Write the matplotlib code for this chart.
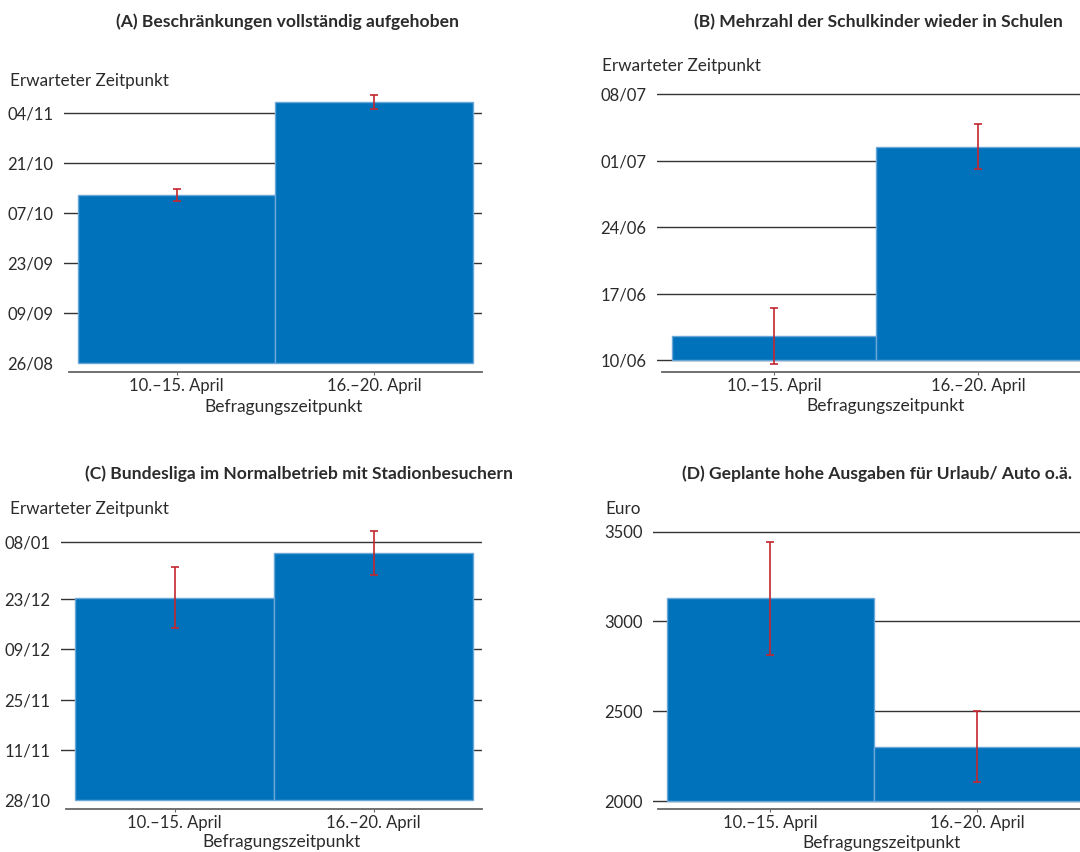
import numpy as np
import matplotlib.pyplot as plt
import matplotlib.dates as mdates

plt.rcParams['font.family'] = ['Lato', 'DejaVu Sans']

W, H = 1080, 852
fig = plt.figure(figsize=(W / 100, H / 100), dpi=100)

# ------- Daten ----------------
gruppen = ['10.–15. April', '16.–20. April']

a_werte = ['2020-10-12 05:00', '2020-11-07 05:00']
a_fehler = [1.7, 2.0]           # Tage
a_ticks = ['2020-08-26', '2020-09-09', '2020-09-23', '2020-10-07', '2020-10-21', '2020-11-04']
a_labels = ['26/08', '09/09', '23/09', '07/10', '21/10', '04/11']

b_werte = ['2020-06-12 14:00', '2020-07-02 11:00']
b_fehler = [2.95, 2.35]
b_ticks = ['2020-06-10', '2020-06-17', '2020-06-24', '2020-07-01', '2020-07-08']
b_labels = ['10/06', '17/06', '24/06', '01/07', '08/07']

c_werte = ['2020-12-23 10:00', '2021-01-04 19:00']
c_fehler = [8.5, 6.1]
c_ticks = ['2020-10-28', '2020-11-11', '2020-11-25', '2020-12-09', '2020-12-23', '2021-01-08']
c_labels = ['28/10', '11/11', '25/11', '09/12', '23/12', '08/01']

d_werte = [3128, 2303]
d_fehler = [313, 198]           # Euro
d_ticks = [2000, 2500, 3000, 3500]
d_labels = ['2000', '2500', '3000', '3500']

titel = ['(A) Beschränkungen vollständig aufgehoben',
         '(B) Mehrzahl der Schulkinder wieder in Schulen',
         '(C) Bundesliga im Normalbetrieb mit Stadionbesuchern',
         '(D) Geplante hohe Ausgaben für Urlaub/ Auto o.ä.']
y_titel = ['Erwarteter Zeitpunkt', 'Erwarteter Zeitpunkt', 'Erwarteter Zeitpunkt', 'Euro']
x_titel = 'Befragungszeitpunkt'

def d2n(lst):
    return [mdates.datestr2num(s) for s in lst]

werte = [d2n(a_werte), d2n(b_werte), d2n(c_werte), d_werte]
fehler = [a_fehler, b_fehler, c_fehler, d_fehler]
ticks = [d2n(a_ticks), d2n(b_ticks), d2n(c_ticks), d_ticks]
labels = [a_labels, b_labels, c_labels, d_labels]

# ------- Layout (Pixel) ----------------
# axes links, rechts, oben, Achsenlinie; Balken links, Balken rechts;
# Pixel des ersten / letzten Ticks; Titel (x, y); y-Titel (x, y); x-Titel (x, y)
layout = [
    dict(ax=(64, 482, 86, 372), bars=(77.7, 473), tp=(363.3, 113.3), spine0=69,
         t=(287, 22), yt=(10, 81), xt=(283, 407), grid_low=False),
    dict(ax=(657, 1100, 86, 372), bars=(671.7, 1080.6), tp=(360.3, 94), spine0=662,
         t=(878, 22), yt=(602, 66), xt=(885, 406), grid_low=True),
    dict(ax=(61, 482, 523, 809), bars=(75, 473.3), tp=(800, 541.7), spine0=66,
         t=(299, 474), yt=(10, 509), xt=(282, 842), grid_low=False),
    dict(ax=(653, 1100, 523, 809), bars=(666.7, 1080.7), tp=(801, 531.7), spine0=658,
         t=(877, 474), yt=(605, 509), xt=(882, 843), grid_low=True),
]

bar_farbe = '#0072bb'
kante = '#6aa6d8'
fehler_farbe = '#c3262e'
text_farbe = '#2b2b2b'

for i in range(4):
    L = layout[i]
    left, right, top, bottom = L['ax']
    ax = fig.add_axes([left / W, 1 - bottom / H, (right - left) / W, (bottom - top) / H])

    # y-Skala aus Tick-Positionen
    t0, t1 = ticks[i][0], ticks[i][-1]
    p0, p1 = L['tp']
    s = (t1 - t0) / (p0 - p1)
    ax.set_ylim(t0 - (bottom - p0) * s, t0 + (p0 - top) * s)

    # x-Skala aus Balkenpositionen
    bl, br = L['bars']
    bw = (br - bl) / 2
    ax.set_xlim(-0.5 - (bl - left) / bw, 1.5 + (right - br) / bw)

    x = np.arange(len(gruppen))
    hoehe = np.array(werte[i]) - t0
    ax.bar(x, hoehe, width=1.0, bottom=t0, color=bar_farbe, edgecolor=kante,
           linewidth=1.0, zorder=3)
    ax.errorbar(x, werte[i], yerr=fehler[i], fmt='none', ecolor=fehler_farbe,
                elinewidth=1.2, capsize=2.8, capthick=1.2, zorder=4)

    # Gitterlinien
    gl = ticks[i] if L['grid_low'] else ticks[i][1:]
    for g in gl:
        ax.axhline(g, color='#333333', lw=1.0, zorder=1)

    ax.set_yticks(ticks[i])
    ax.set_yticklabels(labels[i])
    ax.tick_params(axis='y', length=0, pad=7.5, labelsize=12, labelcolor=text_farbe)
    ax.set_xticks(x)
    ax.set_xticklabels(gruppen)
    ax.tick_params(axis='x', length=2.5, width=0.8, color='#666666', pad=1.5,
                   labelsize=12, labelcolor=text_farbe)

    for sp in ['top', 'right', 'left']:
        ax.spines[sp].set_visible(False)
    ax.spines['bottom'].set_color('#666666')
    ax.spines['bottom'].set_linewidth(1.3)
    xl = ax.get_xlim()
    ax.spines['bottom'].set_bounds(xl[0] + (L['spine0'] - left) / bw, xl[1])

    fig.text(L['t'][0] / W, 1 - L['t'][1] / H, titel[i], ha='center', va='center',
             fontsize=12.6, fontweight='bold', color=text_farbe)
    fig.text(L['yt'][0] / W, 1 - L['yt'][1] / H, y_titel[i], ha='left', va='center',
             fontsize=12.3, color=text_farbe)
    fig.text(L['xt'][0] / W, 1 - L['xt'][1] / H, x_titel, ha='center', va='center',
             fontsize=12.5, color=text_farbe)

fig.savefig('out.png', dpi=100)
